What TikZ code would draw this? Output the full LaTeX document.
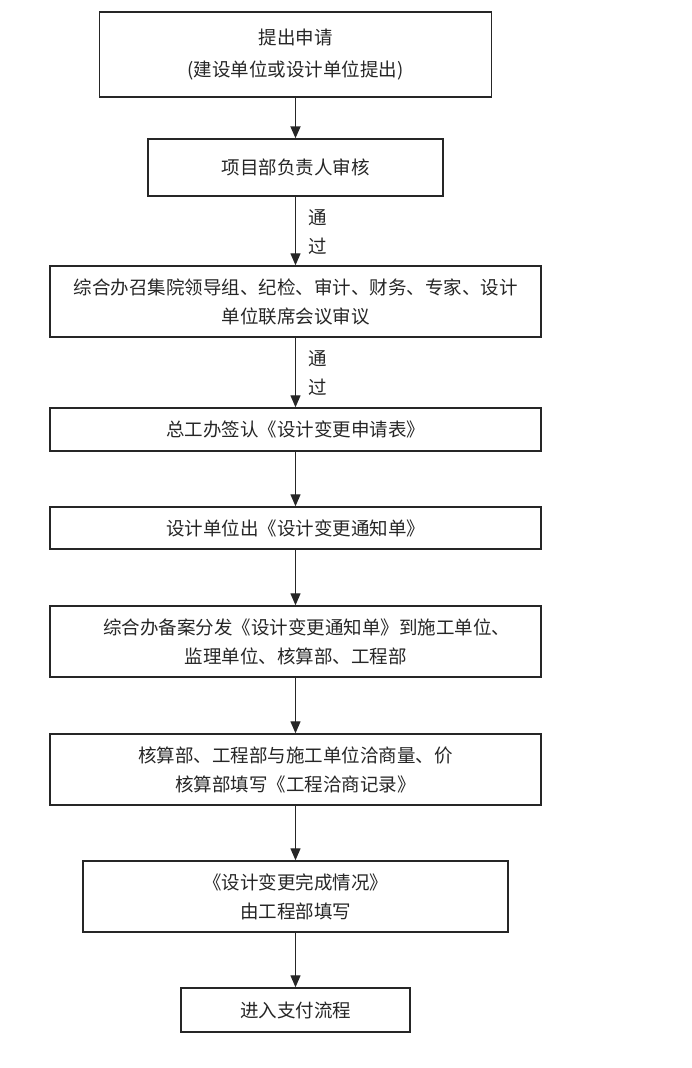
\documentclass[tikz,border=0pt]{standalone}
\usepackage{fontspec}
\setmainfont{Noto Sans CJK SC}
\usetikzlibrary{arrows.meta}
\begin{document}
\begin{tikzpicture}[x=1pt,y=-1pt,
  box/.style={draw=black!85, line width=1.4pt, inner sep=0pt, align=center,
    text=black!85, font=\fontsize{18.5}{29}\selectfont},
  lbl/.style={inner sep=0pt, align=center, text=black!85, font=\fontsize{18.5}{29}\selectfont},
  flow/.style={draw=black!85, -{Triangle[length=12pt,width=10pt]}, line width=1.3pt}]
\useasboundingbox (0,0) rectangle (692,1068);
\node[box, minimum width=392pt, minimum height=85pt] (b1) at (295.5,54.5) {\raisebox{4pt}{提出申请}\\[3pt]\raisebox{4pt}{(建设单位或设计单位提出)}};
\node[box, minimum width=295pt, minimum height=57pt] (b2) at (295.5,167.5) {项目部负责人审核};
\node[box, minimum width=491pt, minimum height=71pt] (b3) at (295.5,301.5) {综合办召集院领导组、纪检、审计、财务、专家、设计\\单位联席会议审议};
\node[box, minimum width=491pt, minimum height=43pt] (b4) at (295.5,429.5) {总工办签认《设计变更申请表》};
\node[box, minimum width=491pt, minimum height=42pt] (b5) at (295.5,528) {设计单位出《设计变更通知单》};
\node[box, minimum width=491pt, minimum height=71pt] (b6) at (295.5,641.5) {\hspace*{22pt}综合办备案分发《设计变更通知单》到施工单位、\\监理单位、核算部、工程部};
\node[box, minimum width=491pt, minimum height=71pt] (b7) at (295.5,769.5) {核算部、工程部与施工单位洽商量、价\\核算部填写《工程洽商记录》};
\node[box, minimum width=425pt, minimum height=71pt] (b8) at (295.5,896.5) {《设计变更完成情况》\\由工程部填写};
\node[box, minimum width=229pt, minimum height=44pt] (b9) at (295.5,1010) {进入支付流程};
\draw[flow, line width=1.8pt] (b1.south) -- (b2.north);
\draw[flow] (b2.south) -- (b3.north);
\draw[flow] (b3.south) -- (b4.north);
\draw[flow] (b4.south) -- (b5.north);
\draw[flow] (b5.south) -- (b6.north);
\draw[flow] (b6.south) -- (b7.north);
\draw[flow] (b7.south) -- (b8.north);
\draw[flow] (b8.south) -- (b9.north);
\node[lbl] (t1) at (318,232) {通\\过};
\node[lbl] (t2) at (318,373) {通\\过};
\end{tikzpicture}
\end{document}
